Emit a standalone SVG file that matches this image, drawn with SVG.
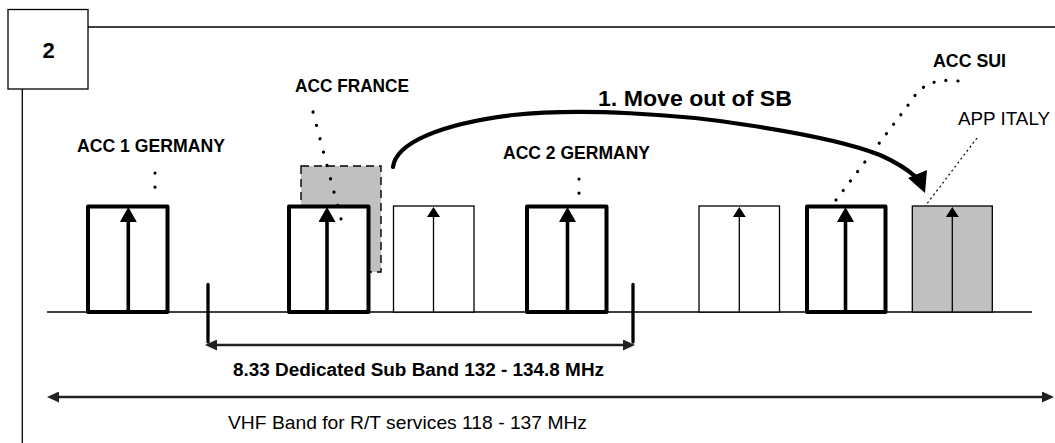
<svg xmlns="http://www.w3.org/2000/svg" width="1055" height="443" viewBox="0 0 1055 443">
<style>
  text { font-family: "Liberation Sans", Arial, sans-serif; fill: #000; }
  .lbl { font-size: 19px; font-weight: bold; }
  .reg { font-size: 19px; font-weight: normal; }
  .frame { fill: none; stroke: #000; stroke-width: 1.3; }
  .thick { fill: #fff; stroke: #000; stroke-width: 4; stroke-linejoin: round; }
  .thin { fill: #fff; stroke: #000; stroke-width: 1.3; }
  .grey { fill: #c0c0c0; stroke: #000; stroke-width: 1.3; }
  .shaftT { stroke: #000; stroke-width: 3.6; marker-end: url(#headThick); }
  .shaftN { stroke: #000; stroke-width: 1.3; marker-end: url(#headThin); }
  .dots { fill: none; stroke: #000; stroke-width: 3.2; stroke-linecap: round; }
  .fine { fill: none; stroke: #000; stroke-width: 1.2; stroke-dasharray: 2 3; }
  .dim { stroke: #222; stroke-width: 2.5; fill: none; }
  .tick { stroke: #000; stroke-width: 3.3; stroke-linecap: round; }
</style>
<defs>
  <marker id="headThick" markerUnits="userSpaceOnUse" viewBox="0 0 15 17" markerWidth="15" markerHeight="17" refX="0" refY="8.5" orient="auto">
    <path d="M0,0 L15,8.5 L0,17 z" fill="#000"/>
  </marker>
  <marker id="headThin" markerUnits="userSpaceOnUse" viewBox="0 0 10 13" markerWidth="10" markerHeight="13" refX="0" refY="6.5" orient="auto">
    <path d="M0,0 L10,6.5 L0,13 z" fill="#000"/>
  </marker>
  <marker id="dimHead" markerUnits="userSpaceOnUse" viewBox="0 0 12 11" markerWidth="12" markerHeight="11" refX="1" refY="5.5" orient="auto-start-reverse">
    <path d="M0,0 L12,5.5 L0,11 z" fill="#222"/>
  </marker>
</defs>

<!-- frame -->
<g id="frame">
  <rect class="frame" x="8" y="9.5" width="80" height="79.5"/>
  <line class="frame" x1="88" y1="27" x2="1055" y2="27"/>
  <line class="frame" x1="22.3" y1="89" x2="22.3" y2="443"/>
  <text x="48.5" y="58" text-anchor="middle" style="font-size:22px;font-weight:bold">2</text>
</g>

<!-- baseline -->
<line id="baseline" x1="47" y1="312" x2="1032" y2="312" stroke="#000" stroke-width="1.3"/>

<!-- gray dashed box (France) behind -->
<g id="france-shadow">
  <rect x="301" y="166" width="80" height="106" fill="#c0c0c0" stroke="#000" stroke-width="1.4" stroke-dasharray="8 5"/>
</g>

<!-- channel nodes -->
<g id="ch-acc1-germany">
  <rect class="thick" x="88" y="206.5" width="79.5" height="105.5"/>
  <line class="shaftT" x1="128.3" y1="312" x2="128.3" y2="222"/>
</g>
<g id="ch-acc-france">
  <rect class="thick" x="289" y="206.5" width="79.5" height="105.5"/>
  <line class="shaftT" x1="327" y1="312" x2="327" y2="222"/>
</g>
<g id="ch-empty-1">
  <rect class="thin" x="393.5" y="206" width="80.5" height="106"/>
  <line class="shaftN" x1="433.5" y1="312" x2="433.5" y2="217"/>
</g>
<g id="ch-acc2-germany">
  <rect class="thick" x="527" y="206.5" width="79.5" height="105.5"/>
  <line class="shaftT" x1="567.5" y1="312" x2="567.5" y2="222"/>
</g>
<g id="ch-empty-2">
  <rect class="thin" x="699" y="206" width="80.5" height="106"/>
  <line class="shaftN" x1="739.3" y1="312" x2="739.3" y2="217"/>
</g>
<g id="ch-acc-sui">
  <rect class="thick" x="807" y="206.5" width="78.5" height="105.5"/>
  <line class="shaftT" x1="845.5" y1="312" x2="845.5" y2="222"/>
</g>
<g id="ch-app-italy">
  <rect class="grey" x="912.3" y="206" width="80" height="106"/>
  <line class="shaftN" x1="952.3" y1="312" x2="952.3" y2="217"/>
</g>

<!-- labels -->
<g id="labels">
  <text class="lbl" x="77" y="152" textLength="148" lengthAdjust="spacingAndGlyphs">ACC 1 GERMANY</text>
  <text class="lbl" x="295" y="92" textLength="114" lengthAdjust="spacingAndGlyphs">ACC FRANCE</text>
  <text class="lbl" x="503" y="159" textLength="147" lengthAdjust="spacingAndGlyphs">ACC 2 GERMANY</text>
  <text class="lbl" x="933" y="67" textLength="73" lengthAdjust="spacingAndGlyphs">ACC SUI</text>
  <text class="reg" x="958" y="125" textLength="92" lengthAdjust="spacingAndGlyphs">APP ITALY</text>
  <text x="598" y="106" style="font-size:21.5px;font-weight:bold" textLength="194" lengthAdjust="spacingAndGlyphs">1. Move out of SB</text>
</g>

<!-- connectors -->
<g id="connectors">
  <path class="dots" d="M155,173 L155,187.2" stroke-dasharray="0.1 14"/>
  <path class="dots" d="M579,179 L579,193.2" stroke-dasharray="0.1 14"/>
  <path class="dots" d="M313,112 L341,219" stroke-dasharray="0.1 13.7"/>
  <path class="dots" d="M958,81 Q925,77 912,100 L833,204" stroke-dasharray="0.1 11.8"/>
  <path class="fine" d="M977,138 L926,205"/>
  <path d="M393,167 C396,143 440,124 513,115 C580,108 680,114 747,125 C800,133 850,143 880,155 C898,163 908,170 916,177" fill="none" stroke="#000" stroke-width="4.2" stroke-linecap="round"/>
  <polygon points="908,178 927,170 925,193" fill="#000"/>
</g>

<!-- band dimensions -->
<g id="sub-band">
  <line class="tick" x1="208" y1="284.5" x2="208" y2="342"/>
  <line class="tick" x1="633" y1="284.5" x2="633" y2="342"/>
  <line class="dim" x1="216" y1="345" x2="624" y2="345" marker-start="url(#dimHead)" marker-end="url(#dimHead)"/>
  <text class="lbl" x="233" y="376" style="font-size:17.5px" textLength="371" lengthAdjust="spacingAndGlyphs">8.33 Dedicated Sub Band 132 - 134.8 MHz</text>
</g>
<g id="vhf-band">
  <line class="dim" x1="58" y1="397" x2="1043" y2="397" marker-start="url(#dimHead)" marker-end="url(#dimHead)"/>
  <text class="reg" x="228" y="429" style="font-size:18.5px" textLength="359" lengthAdjust="spacingAndGlyphs">VHF Band for R/T services 118 - 137 MHz</text>
</g>
</svg>
